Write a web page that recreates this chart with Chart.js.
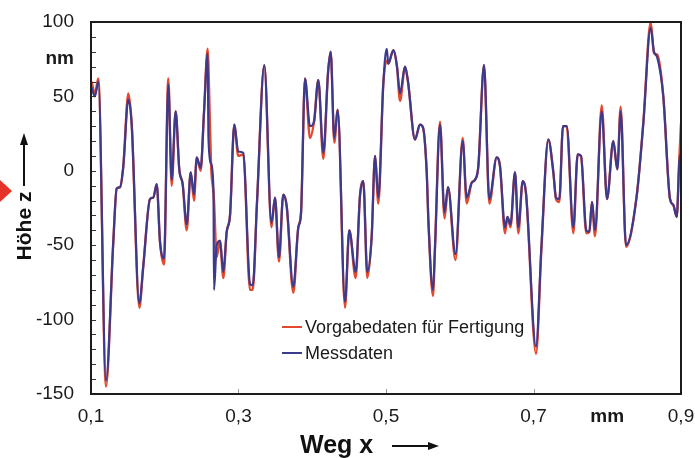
<!DOCTYPE html>
<html>
<head>
<meta charset="utf-8">
<script src="https://cdn.jsdelivr.net/npm/chart.js@4.4.1/dist/chart.umd.min.js"></script>
<style>
  html, body { margin: 0; padding: 0; background: #fff; }
  #wrap { width: 695px; height: 458px; }
</style>
</head>
<body>
<div id="wrap"><canvas id="chart" width="695" height="458"></canvas></div>
<script>
// Weg x in mm
const weg = [
  0.1007, 0.1054, 0.1099, 0.1203, 0.1302, 0.1348, 0.1393, 0.1438, 0.1506, 0.1552,
  0.1655, 0.1709, 0.1800, 0.1845, 0.1891, 0.1936, 0.1990, 0.2048, 0.2094, 0.2148,
  0.2197, 0.2243, 0.2298, 0.2352, 0.2397, 0.2433, 0.2487, 0.2532, 0.2582, 0.2593,
  0.2627, 0.2661, 0.2668, 0.2704, 0.2749, 0.2794, 0.2840, 0.2885, 0.2943, 0.2997,
  0.3065, 0.3156, 0.3193, 0.3251, 0.3350, 0.3447, 0.3495, 0.3549, 0.3607, 0.3654,
  0.3743, 0.3811, 0.3847, 0.3902, 0.3969, 0.4024, 0.4082, 0.4150, 0.4214, 0.4250,
  0.4299, 0.4345, 0.4444, 0.4502, 0.4589, 0.4647, 0.4692, 0.4746, 0.4806, 0.4851,
  0.4896, 0.4963, 0.5010, 0.5031, 0.5099, 0.5149, 0.5190, 0.5258, 0.5298, 0.5393,
  0.5461, 0.5502, 0.5552, 0.5576, 0.5637, 0.5664, 0.5732, 0.5793, 0.5841, 0.5942,
  0.6040, 0.6094, 0.6162, 0.6207, 0.6252, 0.6329, 0.6401, 0.6501, 0.6546, 0.6614,
  0.6647, 0.6688, 0.6749, 0.6794, 0.6854, 0.6898, 0.7034, 0.7108, 0.7201, 0.7269,
  0.7305, 0.7350, 0.7400, 0.7450, 0.7540, 0.7599, 0.7644, 0.7716, 0.7757, 0.7793,
  0.7834, 0.7925, 0.7997, 0.8082, 0.8136, 0.8182, 0.8254, 0.8399, 0.8489, 0.8589,
  0.8634, 0.8679, 0.8760, 0.8851, 0.8896, 0.8942, 0.8977, 0.9000
];

// Höhe z in nm, Vorgabedaten (rot)
const vorgabe = [
  60, 52, 62, -145, -48, -12, -11, 3, 52, 31,
  -92, -64, -19, -18, -9, -48, -63, 62, -10, 40,
  1, -9, -40, -1, -20, 9, 0, 39, 82, 70,
  5, -15, -20, -58, -47, -72, -41, -30, 31, 10,
  11, -80, -80, -21, 71, -38, -18, -61, -16, -24,
  -82, -38, -29, 62, 22, 33, 61, 8, 66, 80,
  19, 41, -92, -40, -72, -17, -7, -72, -44, 10,
  -22, 58, 74, 72, 81, 70, 47, 70, 60, 21,
  31, 29, -1, -35, -84, -52, 33, -32, -11, -60,
  22, -22, -8, -6, 3, 71, -22, 9, 3, -42,
  -31, -38, -1, -42, -7, -15, -123, -52, 21, -1,
  -19, -21, 30, 30, -42, 11, 10, -42, -41, -21,
  -44, 44, -19, 20, 1, 43, -51, -17, 32, 100,
  79, 78, 50, -19, -23, -31, 8, 32
];

// Höhe z in nm, Messdaten (blau)
const mess = [
  56, 50, 60, -141, -48, -12, -11, 3, 48, 31,
  -89, -64, -19, -18, -9, -48, -59, 58, -6, 40,
  1, -9, -36, -1, -16, 9, 2, 39, 79, 22,
  5, -14, -80, -50, -47, -68, -41, -30, 31, 13,
  12, -76, -77, -21, 71, -35, -18, -58, -16, -24,
  -78, -38, -29, 62, 30, 33, 61, 12, 66, 80,
  22, 41, -88, -40, -68, -17, -7, -68, -44, 10,
  -18, 58, 82, 72, 81, 70, 52, 70, 60, 21,
  31, 29, -1, -35, -80, -52, 31, -28, -11, -56,
  20, -18, -8, -6, 3, 71, -19, 9, 3, -38,
  -31, -36, -1, -38, -7, -15, -118, -50, 21, -1,
  -18, -19, 30, 30, -38, 11, 10, -40, -41, -21,
  -40, 40, -19, 20, 1, 40, -50, -17, 32, 96,
  80, 76, 50, -19, -23, -31, 6, 12
];

const seriesLabels = ['Vorgabedaten für Fertigung', 'Messdaten'];
const yTicks = [-150, -100, -50, 0, 50, 75, 100];
const yUnitAt = 75;      // "nm" steht an dieser Stelle
const xTicks = [0.1, 0.3, 0.5, 0.7, 0.8, 0.9];
const xUnitAt = 0.8;     // "mm" steht an dieser Stelle
const xMarks = [0.3, 0.5, 0.7];
const yMinorStep = 10;

const RED = '#e3492f';
const BLUE = '#3b3a8c';
const FONT = '"Liberation Sans", Arial, sans-serif';

const toPoints = (ys) => weg.map((x, i) => ({ x, y: ys[i] }));

// Rahmen, Teilstriche, Legende und Achsentitel
const decoPlugin = {
  id: 'deco',
  afterDraw(chart) {
    const { ctx, chartArea: a, scales: { x, y } } = chart;
    ctx.save();

    // kleine Teilstriche links innen
    ctx.strokeStyle = '#333';
    ctx.lineWidth = 1;
    ctx.beginPath();
    for (let v = y.min; v <= y.max; v += yMinorStep) {
      const py = Math.round(y.getPixelForValue(v)) + 0.5;
      ctx.moveTo(a.left, py);
      ctx.lineTo(a.left + 5, py);
    }
    ctx.stroke();

    ctx.strokeStyle = '#999';
    ctx.beginPath();
    xMarks.forEach(v => {
      const px = Math.round(x.getPixelForValue(v)) + 0.5;
      ctx.moveTo(px, a.bottom);
      ctx.lineTo(px, a.bottom - 5);
    });
    ctx.stroke();

    // Rahmen
    ctx.strokeStyle = '#1c1c1c';
    ctx.lineWidth = 2;
    ctx.strokeRect(a.left, a.top, a.right - a.left, a.bottom - a.top);

    // Legende
    const lx = a.left + 191, ly = a.top + 305;
    ctx.font = '18px ' + FONT;
    ctx.textBaseline = 'middle';
    ctx.fillStyle = '#1a1a1a';
    chart.data.datasets.forEach((ds, i) => {
      const yy = ly + i * 26;
      ctx.strokeStyle = ds.borderColor;
      ctx.lineWidth = 2;
      ctx.beginPath();
      ctx.moveTo(lx, yy);
      ctx.lineTo(lx + 20, yy);
      ctx.stroke();
      ctx.fillText(ds.label, lx + 23, yy + 1);
    });

    // Achsentitel y
    ctx.fillStyle = '#111';
    ctx.font = 'bold 21px ' + FONT;
    ctx.save();
    ctx.translate(31, 226);
    ctx.rotate(-Math.PI / 2);
    ctx.textAlign = 'center';
    ctx.textBaseline = 'alphabetic';
    ctx.fillText('Höhe z', 0, 0);
    ctx.restore();
    ctx.strokeStyle = '#111';
    ctx.lineWidth = 2;
    ctx.beginPath();
    ctx.moveTo(24, 186);
    ctx.lineTo(24, 142);
    ctx.stroke();
    ctx.beginPath();
    ctx.moveTo(24, 133);
    ctx.lineTo(20, 145);
    ctx.lineTo(28, 145);
    ctx.closePath();
    ctx.fill();

    // Achsentitel x
    ctx.font = 'bold 25px ' + FONT;
    ctx.textAlign = 'left';
    ctx.textBaseline = 'alphabetic';
    ctx.fillText('Weg x', 300, 453);
    ctx.beginPath();
    ctx.moveTo(392, 446);
    ctx.lineTo(430, 446);
    ctx.stroke();
    ctx.beginPath();
    ctx.moveTo(439, 446);
    ctx.lineTo(428, 442);
    ctx.lineTo(428, 450);
    ctx.closePath();
    ctx.fill();

    // roter Pfeil am linken Rand
    ctx.fillStyle = '#e5332a';
    ctx.beginPath();
    ctx.moveTo(0, 180);
    ctx.lineTo(12, 191);
    ctx.lineTo(0, 202);
    ctx.closePath();
    ctx.fill();

    ctx.restore();
  }
};

new Chart(document.getElementById('chart'), {
  type: 'line',
  data: {
    datasets: [
      {
        label: seriesLabels[0],
        data: toPoints(vorgabe),
        borderColor: RED,
        borderWidth: 2.4,
        pointRadius: 0,
        cubicInterpolationMode: 'monotone',
        order: 2
      },
      {
        label: seriesLabels[1],
        data: toPoints(mess),
        borderColor: BLUE,
        borderWidth: 2.2,
        pointRadius: 0,
        cubicInterpolationMode: 'monotone',
        order: 1
      }
    ]
  },
  options: {
    responsive: false,
    animation: false,
    devicePixelRatio: 1,
    layout: { padding: { top: 22, right: 14, left: 0, bottom: 0 } },
    plugins: { legend: { display: false }, tooltip: { enabled: false } },
    scales: {
      x: {
        type: 'linear',
        min: 0.1,
        max: 0.9,
        grid: { display: false, drawTicks: false },
        border: { display: false },
        afterBuildTicks: s => { s.ticks = xTicks.map(v => ({ value: v })); },
        afterFit: s => { s.height = 64; s.paddingLeft = 0; s.paddingRight = 0; },
        ticks: {
          padding: 11,
          color: '#1a1a1a',
          maxRotation: 0,
          autoSkip: false,
          font: ctx => ({
            family: FONT,
            size: 19,
            weight: ctx.tick && Math.abs(ctx.tick.value - xUnitAt) < 1e-6 ? 'bold' : 'normal'
          }),
          callback: v => Math.abs(v - xUnitAt) < 1e-6 ? 'mm' : v.toFixed(1).replace('.', ',')
        }
      },
      y: {
        min: -150,
        max: 100,
        grid: { display: false, drawTicks: false },
        border: { display: false },
        afterBuildTicks: s => { s.ticks = yTicks.map(v => ({ value: v })); },
        afterFit: s => { s.width = 91; s.paddingTop = 0; s.paddingBottom = 0; },
        ticks: {
          padding: 17,
          color: '#1a1a1a',
          autoSkip: false,
          font: ctx => ({
            family: FONT,
            size: 19,
            weight: ctx.tick && ctx.tick.value === yUnitAt ? 'bold' : 'normal'
          }),
          callback: v => v === yUnitAt ? 'nm' : v
        }
      }
    }
  },
  plugins: [decoPlugin]
});
</script>
</body>
</html>
